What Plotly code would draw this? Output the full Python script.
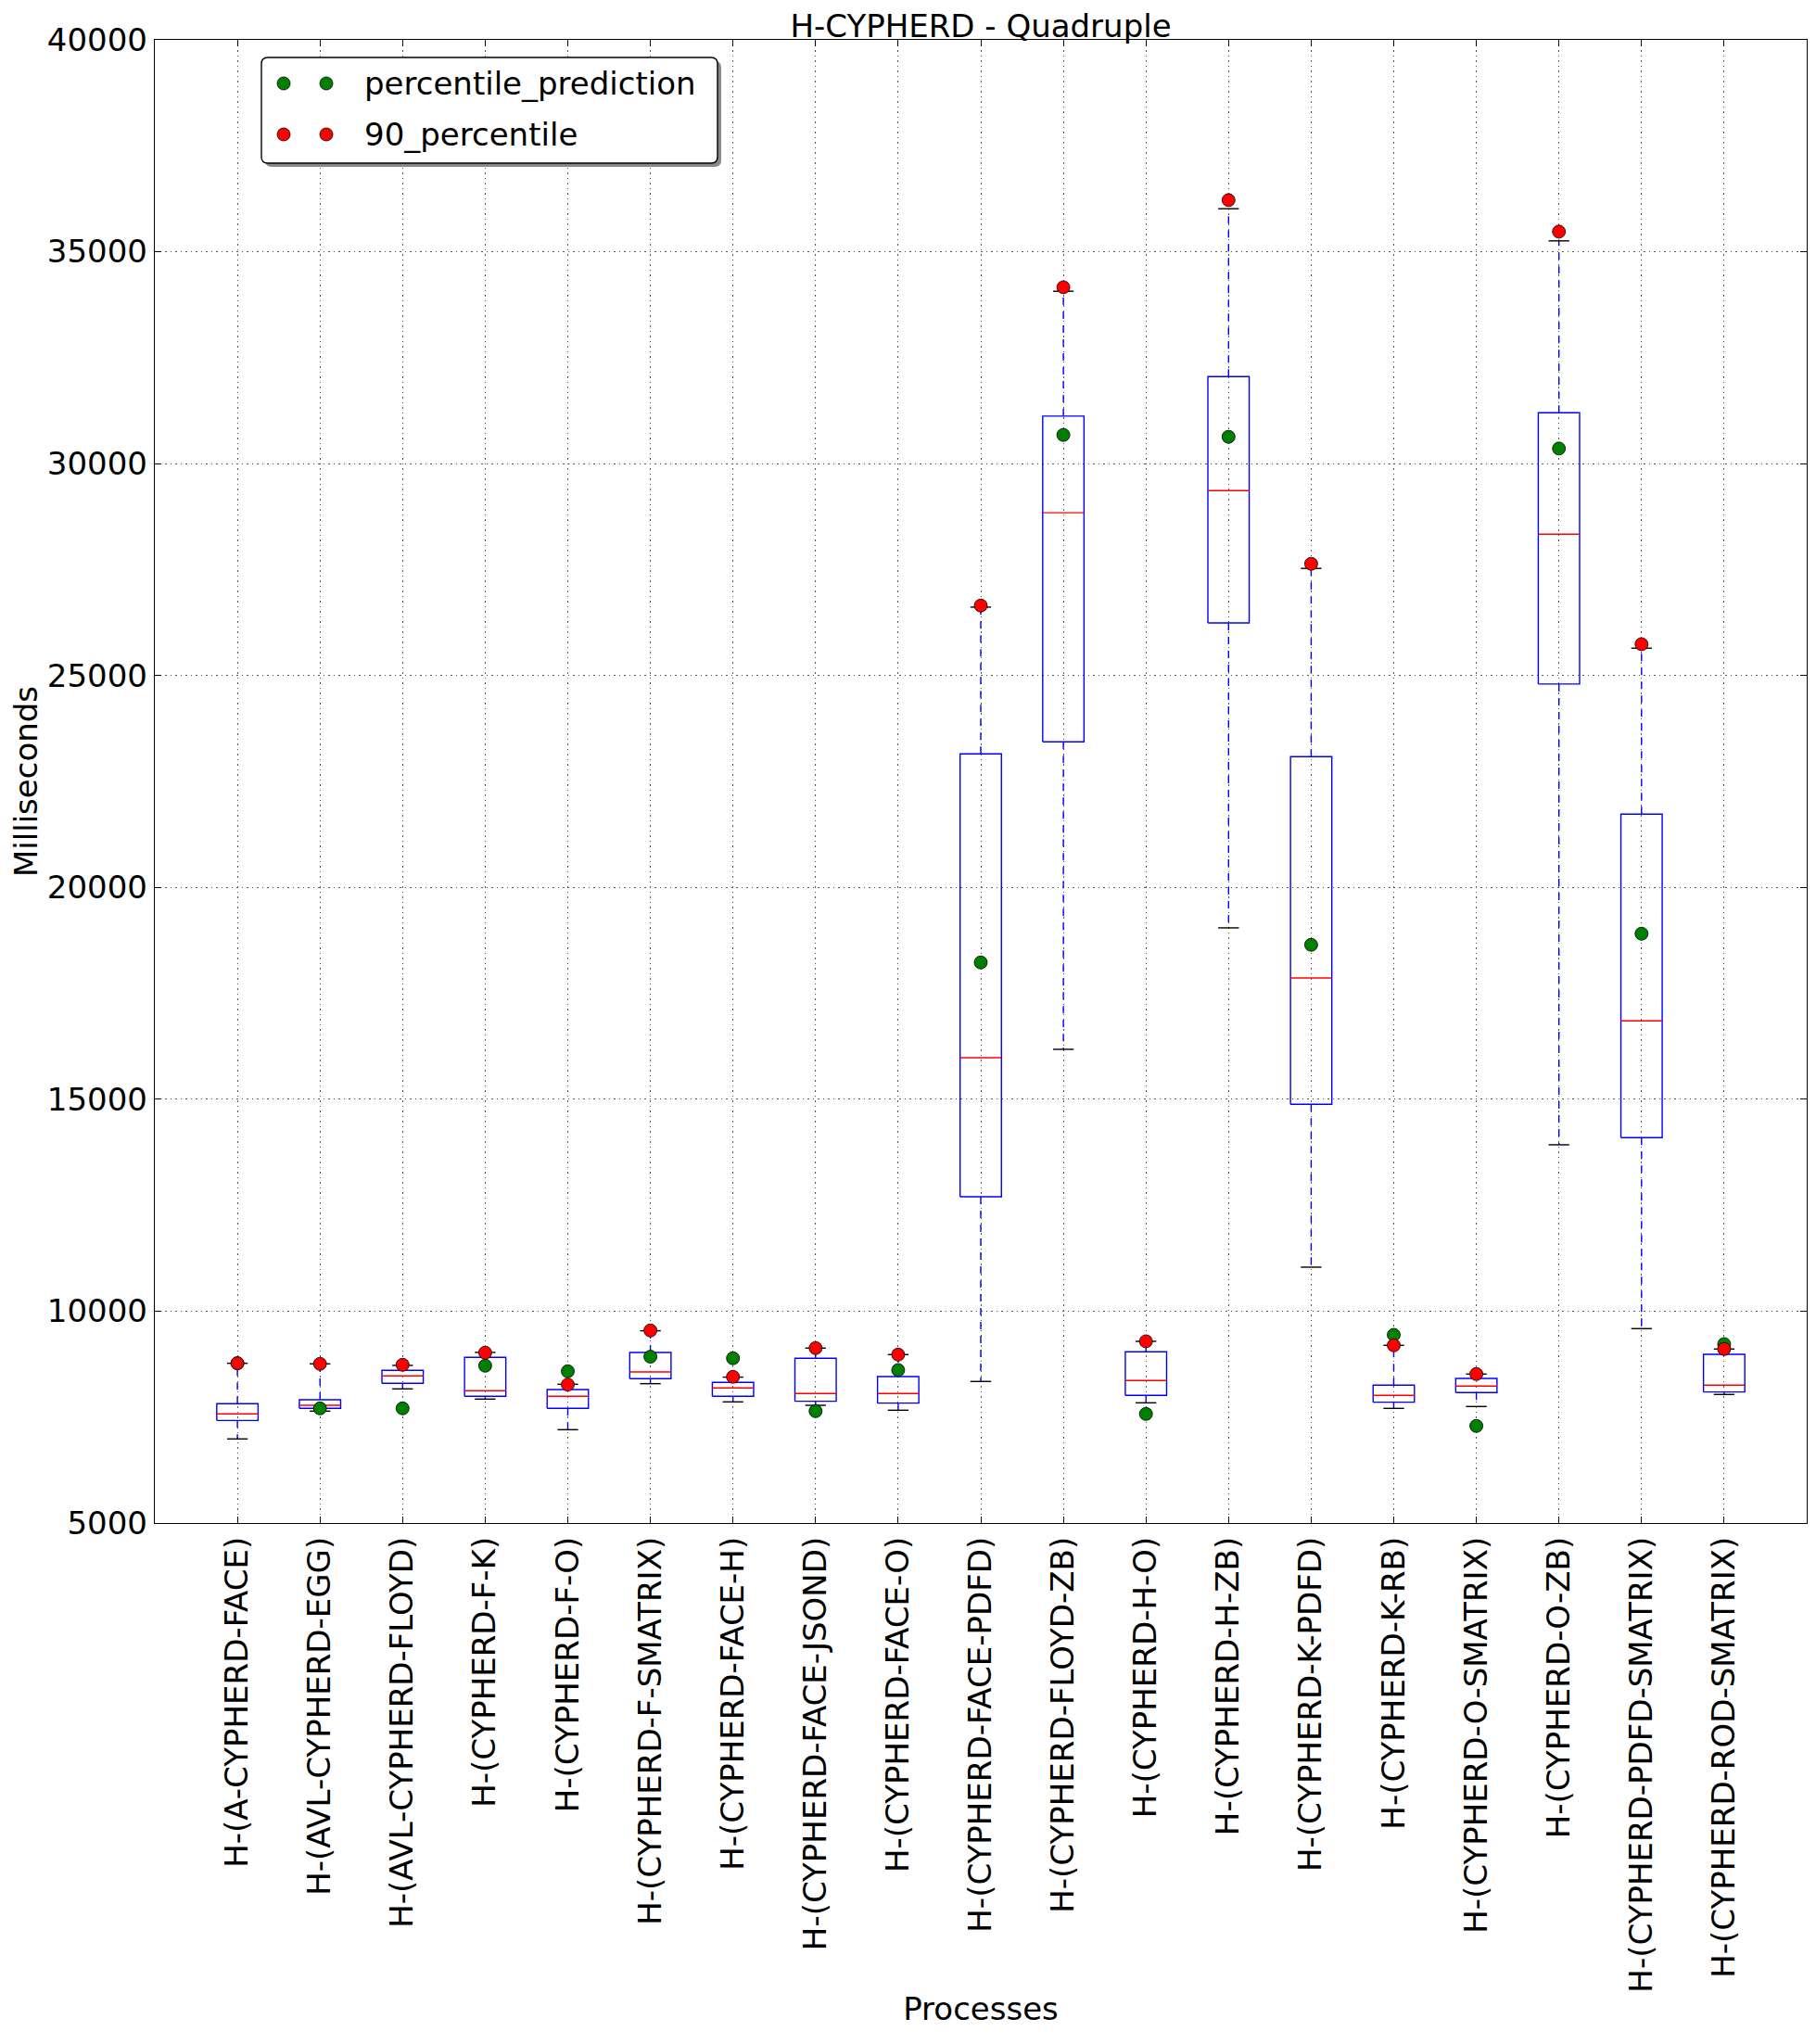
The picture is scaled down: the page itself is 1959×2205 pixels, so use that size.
import numpy as np
import plotly.graph_objects as go

categories = [
    "H-(A-CYPHERD-FACE)", "H-(AVL-CYPHERD-EGG)", "H-(AVL-CYPHERD-FLOYD)",
    "H-(CYPHERD-F-K)", "H-(CYPHERD-F-O)", "H-(CYPHERD-F-SMATRIX)",
    "H-(CYPHERD-FACE-H)", "H-(CYPHERD-FACE-JSOND)", "H-(CYPHERD-FACE-O)",
    "H-(CYPHERD-FACE-PDFD)", "H-(CYPHERD-FLOYD-ZB)", "H-(CYPHERD-H-O)",
    "H-(CYPHERD-H-ZB)", "H-(CYPHERD-K-PDFD)", "H-(CYPHERD-K-RB)",
    "H-(CYPHERD-O-SMATRIX)", "H-(CYPHERD-O-ZB)", "H-(CYPHERD-PDFD-SMATRIX)",
    "H-(CYPHERD-ROD-SMATRIX)",
]
whisker_low = [6985, 7640, 8166, 7925, 7203, 8289, 7859, 7778, 7662, 8341,
               16179, 7837, 19045, 11038, 7706, 7750, 13926, 9588, 8034]
q1 = [7420, 7706, 8297, 7991, 7706, 8406, 7991, 7873, 7829, 12701,
      23436, 8012, 26242, 14882, 7851, 8078, 24799, 14094, 8092]
median = [7575, 7778, 8472, 8122, 7991, 8566, 8188, 8056, 8056, 15982,
          28840, 8362, 29364, 17864, 8012, 8231, 28336, 16851, 8253]
q3 = [7815, 7910, 8603, 8909, 8150, 9026, 8319, 8888, 8457, 23152,
      31121, 9040, 32055, 23086, 8253, 8413, 31202, 21729, 8982]
whisker_high = [8770, 8757, 8720, 9026, 8274, 9537, 8443, 9128, 8975, 26614,
                34068, 9288, 36015, 27527, 9193, 8516, 35257, 25645, 9106]
percentile_prediction = [8770, 7706, 7706, 8712, 8581, 8925, 8888, 7640, 8610, 18229,
                         30677, 7575, 30633, 18645, 9441, 7290, 30356, 18907, 9223]
percentile_90 = [8770, 8757, 8734, 9019, 8267, 9544, 8450, 9128, 8975, 26651,
                 34162, 9288, 36219, 27636, 9193, 8516, 35475, 25739, 9106]
y_ticks = [5000, 10000, 15000, 20000, 25000, 30000, 35000, 40000]

FONT = "DejaVu Sans"
FS = 34
pos = np.arange(1, len(categories) + 1)
half_box = 0.25
half_cap = 0.125

# Build line geometry from data
bx, by, mx, my, wx, wy, cx, cy = [], [], [], [], [], [], [], []
for i, p in enumerate(pos):
    l, r = p - half_box, p + half_box
    bx += [l, r, r, l, l, None]
    by += [q1[i], q1[i], q3[i], q3[i], q1[i], None]
    mx += [l, r, None]
    my += [median[i], median[i], None]
    wx += [p, p, None, p, p, None]
    wy += [q3[i], whisker_high[i], None, q1[i], whisker_low[i], None]
    cx += [p - half_cap, p + half_cap, None, p - half_cap, p + half_cap, None]
    cy += [whisker_high[i], whisker_high[i], None, whisker_low[i], whisker_low[i], None]

fig = go.Figure()
fig.add_trace(go.Scatter(x=wx, y=wy, mode="lines", showlegend=False, hoverinfo="skip",
                         line=dict(color="#0000ff", width=1.4, dash="8px,7px")))
fig.add_trace(go.Scatter(x=bx, y=by, mode="lines", showlegend=False, hoverinfo="skip",
                         line=dict(color="#0000ff", width=1.4)))
fig.add_trace(go.Scatter(x=mx, y=my, mode="lines", showlegend=False, hoverinfo="skip",
                         line=dict(color="#ff0000", width=1.4)))
fig.add_trace(go.Scatter(x=cx, y=cy, mode="lines", showlegend=False, hoverinfo="skip",
                         line=dict(color="#000000", width=1.4)))
fig.add_trace(go.Scatter(x=pos, y=percentile_prediction, mode="markers",
                         name="percentile_prediction", showlegend=False,
                         marker=dict(color="#008000", size=14, line=dict(color="black", width=0.8))))
fig.add_trace(go.Scatter(x=pos, y=percentile_90, mode="markers",
                         name="90_percentile", showlegend=False,
                         marker=dict(color="#ff0000", size=14, line=dict(color="black", width=0.8))))

# page has an 8px body margin; target plot area (page px) x 167..1949, y 43..1643
PAGE_OFF = 8
X0, W, Y0, H = 167, 1782, 43, 1600
def px(x):
    return (x - X0) / W
def py(y):
    return 1 - (y - Y0) / H

def rounded_rect(x0, y0, x1, y1, r):
    rx, ry = r / W, r / H
    a, b, c, d = px(x0), py(y0), px(x1), py(y1)  # b top, d bottom
    return (f"M {a+rx},{b} L {c-rx},{b} Q {c},{b} {c},{b-ry} "
            f"L {c},{d+ry} Q {c},{d} {c-rx},{d} L {a+rx},{d} "
            f"Q {a},{d} {a},{d+ry} L {a},{b-ry} Q {a},{b} {a+rx},{b} Z")

shapes = [
    dict(type="path", xref="paper", yref="paper", path=rounded_rect(286, 66, 778, 180, 7),
         fillcolor="#888888", line=dict(width=0), layer="above"),
    dict(type="path", xref="paper", yref="paper", path=rounded_rect(282, 62, 774, 176, 7),
         fillcolor="white", line=dict(color="black", width=1.4), layer="above"),
]
legend_rows = [("percentile_prediction", "#008000", 90), ("90_percentile", "#ff0000", 145)]
annotations = []
for label, color, yrow in legend_rows:
    for xm in (306, 352):
        shapes.append(dict(type="circle", xref="paper", yref="paper",
                           xsizemode="pixel", ysizemode="pixel",
                           xanchor=px(xm), yanchor=py(yrow),
                           x0=-7, x1=7, y0=-7, y1=7,
                           fillcolor=color, line=dict(color="black", width=0.8), layer="above"))
    annotations.append(dict(xref="paper", yref="paper", x=px(391), y=py(yrow),
                            xanchor="left", yanchor="middle", showarrow=False,
                            text=label, font=dict(family=FONT, size=FS, color="black")))

axis_common = dict(showline=True, linecolor="black", linewidth=1.4, mirror="allticks",
                   ticks="inside", ticklen=7, tickcolor="black", tickwidth=1.2,
                   showgrid=True, gridcolor="#555555", gridwidth=1, griddash="1.5px,4px",
                   zeroline=False, tickfont=dict(family=FONT, size=FS, color="black"))

L = X0 - PAGE_OFF
T = Y0 - PAGE_OFF
FIG_W = 1959 - PAGE_OFF
FIG_H = 2205 - PAGE_OFF

fig.update_layout(
    width=FIG_W, height=FIG_H,
    margin=dict(l=L, r=FIG_W - L - W, t=T, b=FIG_H - T - H, autoexpand=False),
    paper_bgcolor="white", plot_bgcolor="white",
    font=dict(family=FONT, size=FS, color="black"),
    title=dict(text="H-CYPHERD - Quadruple", x=0.5, xref="paper", xanchor="center",
               y=1, yref="paper", yanchor="bottom", pad=dict(b=3),
               font=dict(family=FONT, size=FS, color="black")),
    xaxis=dict(range=[0, 20], tickmode="array", tickvals=list(pos), ticktext=categories,
               tickangle=-90, automargin=False,
               title=dict(text="Processes", standoff=6, font=dict(family=FONT, size=FS)),
               **axis_common),
    yaxis=dict(range=[5000, 40000], tickmode="array", tickvals=y_ticks,
               ticktext=[str(v) for v in y_ticks], automargin=False,
               title=dict(text="Milliseconds", standoff=10, font=dict(family=FONT, size=FS)),
               **axis_common),
    shapes=shapes, annotations=annotations,
)

fig.write_html("out.html")
